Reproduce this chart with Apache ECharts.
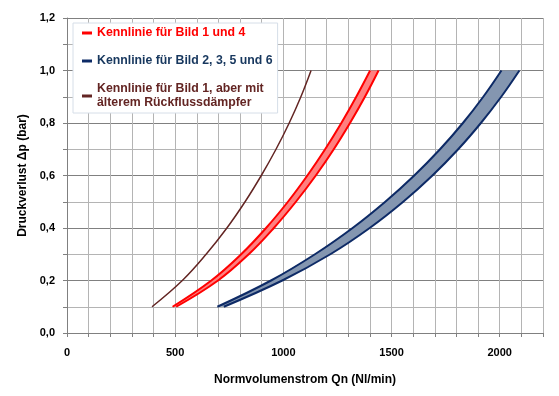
<!DOCTYPE html>
<html>
<head>
<meta charset="utf-8">
<script src="https://cdn.jsdelivr.net/npm/echarts@6/dist/echarts.min.js"></script>
<style>html,body{margin:0;padding:0;background:#fff;}#c{width:559px;height:396px;}</style>
</head>
<body>
<div id="c"></div>
<script>
// Pressure loss values (bar) at which the curves were read
const dpValues = [0.1, 0.2, 0.3, 0.4, 0.5, 0.6, 0.7, 0.8, 0.9, 1.0];
// Flow (Nl/min) for each curve edge
const redLeft   = [488, 667, 805, 920, 1021, 1111, 1193, 1268, 1337, 1401];
const redRight  = [505, 698, 840, 956, 1058, 1150, 1233, 1308, 1377, 1440];
const blueLeft  = [695, 943, 1146, 1320, 1471, 1605, 1724, 1830, 1924, 2008];
const blueRight = [725, 995, 1217, 1399, 1554, 1689, 1808, 1913, 2007, 2091];
const brownLine = [393, 533, 643, 739, 823, 898, 966, 1027, 1081, 1128];

const legendNames = ['Kennlinie für Bild 1 und 4', 'Kennlinie für Bild 2, 3, 5 und 6', 'Kennlinie für Bild 1, aber mit\nälterem Rückflussdämpfer'];
const xLabelStep = 500;

function pairs(xs) { return xs.map((x, i) => [x, dpValues[i]]); }

function band(left, right, fill) {
  return {
    type: 'custom', silent: true, z: 1,
    data: [[left[0], dpValues[0]]],
    renderItem: function (params, api) {
      const pts = left.map((x, i) => api.coord([x, dpValues[i]]))
        .concat(right.map((x, i) => api.coord([x, dpValues[i]])).reverse());
      return { type: 'polygon', shape: { points: pts }, style: { fill: fill } };
    }
  };
}

const RED = '#FF0000', BLUE = '#0D2A66', BROWN = '#632523';
const FONT = 'Liberation Sans, Arial, sans-serif';
const lbl = { fontFamily: FONT, fontWeight: 'bold', fontSize: 11, color: '#000' };

const chart = echarts.init(document.getElementById('c'), null, { renderer: 'canvas' });
chart.setOption({
  animation: false,
  backgroundColor: '#fff',
  grid: { left: 67, right: 16, top: 18, bottom: 63 },
  xAxis: {
    type: 'value', min: 0, max: 2200, interval: 100,
    name: 'Normvolumenstrom Qn (Nl/min)', nameLocation: 'middle', nameGap: 41,
    nameTextStyle: { fontFamily: FONT, fontWeight: 'bold', fontSize: 12, color: '#000' },
    axisLine: { lineStyle: { color: '#808080', width: 1 } },
    axisTick: { show: true, length: 4, lineStyle: { color: '#808080' } },
    axisLabel: Object.assign({}, lbl, { margin: 14, formatter: v => (Math.round(v) % xLabelStep === 0 ? String(Math.round(v)) : '') }),
    splitLine: { show: true, lineStyle: { color: '#B4B4B4', width: 1 } }
  },
  yAxis: {
    type: 'value', min: 0, max: 1.2, interval: 0.1,
    name: 'Druckverlust Δp (bar)', nameLocation: 'middle', nameGap: 34,
    nameTextStyle: { fontFamily: FONT, fontWeight: 'bold', fontSize: 12, color: '#000' },
    axisLine: { show: true, lineStyle: { color: '#808080', width: 1 } },
    axisTick: { show: true, length: 4, lineStyle: { color: '#808080' } },
    axisLabel: Object.assign({}, lbl, { margin: 12, formatter: v => (Math.round(v * 10) % 2 === 0 ? v.toFixed(1).replace('.', ',') : '') }),
    splitLine: { show: true, lineStyle: { color: ['#808080', '#B4B4B4'], width: 1 } }
  },
  legend: {
    left: 73, top: 23, orient: 'vertical',
    backgroundColor: '#fff', borderColor: '#D6DEE8', borderWidth: 1,
    padding: [3, 5, 3, 9], itemGap: 14, itemWidth: 10, itemHeight: 3, icon: 'rect',
    textStyle: { fontFamily: FONT, fontWeight: 'bold', fontSize: 12.3, lineHeight: 14 },
    data: [
      { name: legendNames[0], textStyle: { color: RED } },
      { name: legendNames[1], textStyle: { color: '#17375E' } },
      { name: legendNames[2], textStyle: { color: BROWN } }
    ]
  },
  series: [
    band(redLeft, redRight, '#FF8080'),
    band(blueLeft, blueRight, '#8496B0'),
    { type: 'line', name: legendNames[0], data: pairs(redLeft), smooth: 0.4, showSymbol: false, z: 3,
      lineStyle: { color: RED, width: 2 }, itemStyle: { color: RED } },
    { type: 'line', name: 'redR', data: pairs(redRight), smooth: 0.4, showSymbol: false, z: 3,
      lineStyle: { color: RED, width: 2 }, itemStyle: { color: RED } },
    { type: 'line', name: legendNames[1], data: pairs(blueLeft), smooth: 0.4, showSymbol: false, z: 3,
      lineStyle: { color: BLUE, width: 2 }, itemStyle: { color: BLUE } },
    { type: 'line', name: 'blueR', data: pairs(blueRight), smooth: 0.4, showSymbol: false, z: 3,
      lineStyle: { color: BLUE, width: 2 }, itemStyle: { color: BLUE } },
    { type: 'line', name: legendNames[2], data: pairs(brownLine), smooth: 0.4, showSymbol: false, z: 3,
      lineStyle: { color: BROWN, width: 1.5 }, itemStyle: { color: BROWN } }
  ]
});
</script>
</body>
</html>
